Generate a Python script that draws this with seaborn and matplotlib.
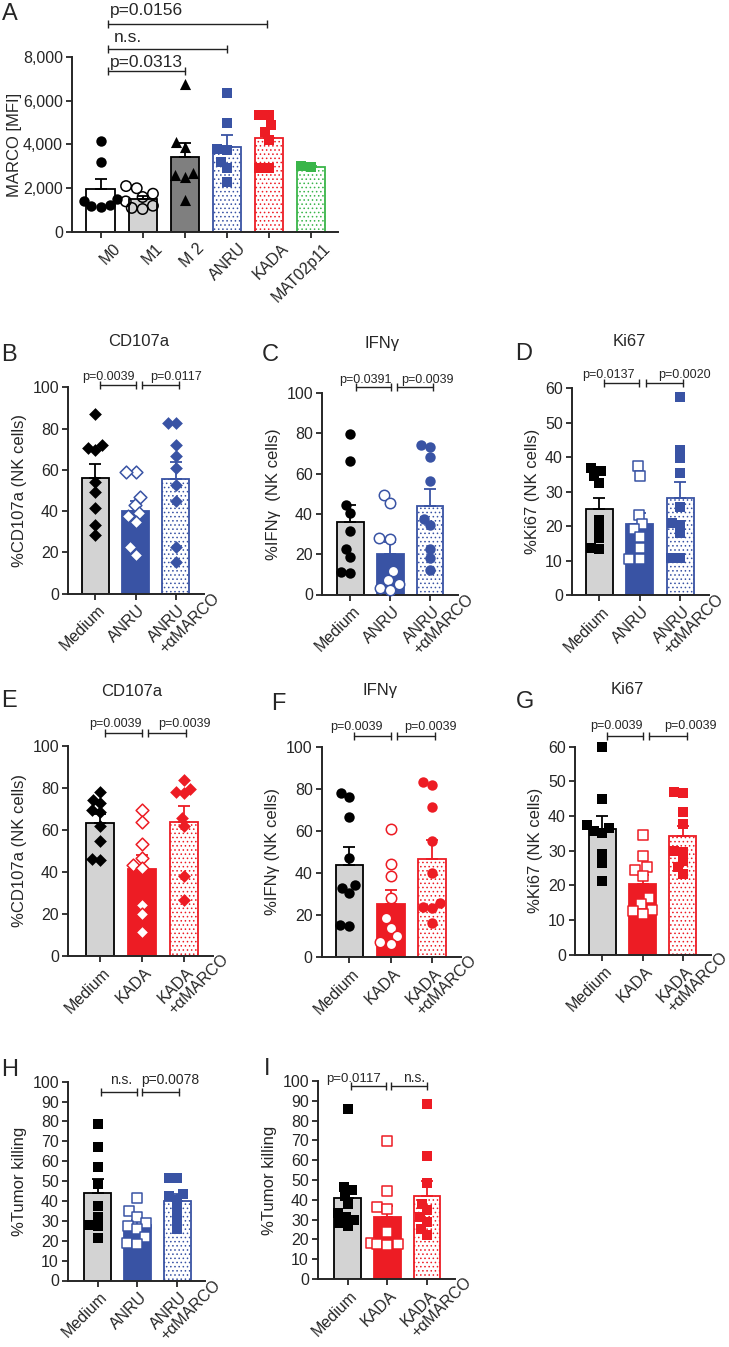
import numpy as np
import pandas as pd
import matplotlib
matplotlib.use("Agg")
import matplotlib.pyplot as plt
from matplotlib.transforms import ScaledTranslation, blended_transform_factory
from matplotlib.ticker import FuncFormatter
import seaborn as sns

# ---------------- data ----------------
A_cats = ["M0", "M1", "M 2", "ANRU", "KADA", "MAT02p11"]
A_M0 = [4170, 3220, 1500, 1400, 1250, 1150, 1200]
A_M1 = [2100, 2000, 1750, 1600, 1400, 1200, 1100, 1050]
A_M2 = [6780, 4100, 3900, 2700, 2600, 2500, 1470]
A_ANRU = [6350, 4960, 3800, 3750, 3220, 2910, 2300]
A_KADA = [5340, 5340, 4890, 4580, 4200, 2910, 2910]
A_MAT = [3020, 2960]

anru_cats = ["Medium", "ANRU", "ANRU\n+αMARCO"]
kada_cats = ["Medium", "KADA", "KADA\n+αMARCO"]

B_med = [87.1, 72.0, 70.6, 69.6, 54.2, 49.4, 41.3, 33.2, 28.4]
B_anru = [59.1, 59.1, 46.6, 42.9, 39.0, 37.8, 34.9, 22.4, 18.7]
B_mab = [82.5, 82.5, 72.0, 66.9, 60.7, 52.6, 45.0, 22.7, 15.4]

C_med = [79.6, 66.4, 44.5, 40.5, 31.5, 22.5, 18.5, 11.0, 10.5]
C_anru = [49.5, 45.4, 28.1, 27.3, 11.5, 7.0, 5.0, 3.0, 2.0]
C_mab = [74.2, 73.4, 68.4, 56.4, 37.6, 34.3, 22.6, 18.2, 12.4]

D_med = [36.8, 35.8, 34.5, 32.6, 21.8, 19.3, 16.6, 13.7, 13.2]
D_anru = [37.4, 34.6, 23.2, 20.5, 19.0, 16.7, 13.5, 10.3, 10.3]
D_mab = [57.5, 42.1, 39.7, 35.3, 25.4, 20.8, 20.3, 17.9, 10.8, 10.8]

E_med = [78.0, 74.2, 72.9, 69.4, 68.6, 61.9, 54.5, 46.1, 45.5]
E_kada = [69.2, 63.6, 53.2, 46.6, 43.5, 42.0, 24.4, 19.9, 11.5]
E_mab = [83.7, 79.5, 78.2, 77.5, 65.5, 61.9, 38.2, 26.8]

F_med = [78.2, 76.0, 66.8, 47.1, 34.0, 33.0, 30.5, 15.2, 14.8]
F_kada = [60.9, 44.3, 38.6, 28.0, 18.5, 14.0, 10.0, 7.0, 6.0]
F_mab = [83.1, 81.8, 71.2, 55.0, 39.8, 25.5, 24.0, 23.5, 16.0]

G_med = [60.0, 44.8, 37.3, 36.5, 35.8, 35.0, 29.0, 26.4, 21.3]
G_kada = [34.6, 28.6, 25.2, 24.5, 22.6, 16.5, 14.5, 13.0, 12.6, 11.7]
G_mab = [46.9, 46.6, 41.3, 37.8, 30.0, 29.5, 27.1, 25.2, 23.2]

H_med = [78.7, 67.4, 57.3, 48.6, 37.5, 32.0, 27.8, 27.5, 21.4]
H_anru = [41.5, 35.0, 32.0, 29.0, 27.5, 26.0, 22.0, 19.0, 18.5]
H_mab = [51.5, 51.5, 43.6, 42.3, 40.5, 35.3, 30.3, 26.1]

I_med = [85.8, 46.4, 44.7, 42.0, 38.0, 33.2, 31.5, 30.0, 28.3, 27.0]
I_kada = [69.8, 44.4, 36.3, 35.4, 23.9, 18.3, 17.8, 17.5, 17.0]
I_mab = [88.4, 62.0, 48.5, 38.0, 34.6, 31.5, 29.0, 25.3, 22.2]

# ---------------- style ----------------
sns.set_style("ticks")
plt.rcParams["font.family"] = ["Liberation Sans", "DejaVu Sans"]
plt.rcParams["hatch.linewidth"] = 0.6

W, H = 729, 1347
DPI = 100
fig = plt.figure(figsize=(W / DPI, H / DPI), dpi=DPI)

# separate scratch figure for measuring text widths
_mfig = plt.figure(figsize=(2, 2), dpi=DPI)
_mren = _mfig.canvas.get_renderer()

BLUE = "#3953A4"
RED = "#ED1C24"
GREEN = "#3AB54A"
LGREY = "#D3D3D3"
DGREY = "#7F7F7F"

SWARMS = []  # (collection, final marker size)
LAYOUT = 0.85  # swarm layout computed with slightly smaller markers (points overlap a bit)


def px_axes(l, t, r, b):
    return fig.add_axes([l / W, 1 - b / H, (r - l) / W, (b - t) / H])


def st(bar, edge, mface, medge, marker, hatch=None, err=None, msize=7, mlw=0.0):
    return dict(bar=bar, edge=edge, mface=mface, medge=medge, marker=marker,
                hatch=hatch, err=err or edge, msize=msize, mlw=mlw)


def draw_panel(ax, cats, groups, styles, ylim, yticks, ylabel, xleft, xright=2.7,
               tick_fs=11.5, fmt=None):
    df = pd.DataFrame({"g": np.repeat(cats, [len(g) for g in groups]),
                       "v": np.concatenate(groups)})
    sns.barplot(data=df, x="g", y="v", order=cats, errorbar=None, width=0.67,
                ax=ax, linewidth=1.3, edgecolor="black")
    for p, s in zip(ax.patches, styles):
        p.set_facecolor(s["bar"])
        p.set_edgecolor(s["edge"])
        if s["hatch"]:
            p.set_hatch(s["hatch"])
    for i, (vals, s) in enumerate(zip(groups, styles)):
        m = np.mean(vals)
        se = np.std(vals, ddof=1) / np.sqrt(len(vals))
        ax.errorbar([i], [m], yerr=[[0], [se]], fmt="none", ecolor=s["err"],
                    elinewidth=1.3, capsize=4.3, capthick=1.3, zorder=2.5)
    for i, (vals, s) in enumerate(zip(groups, styles)):
        sub = pd.DataFrame({"g": [cats[i]] * len(vals), "v": vals})
        n0 = len(ax.collections)
        sns.swarmplot(data=sub, x="g", y="v", order=cats, marker=s["marker"],
                      color=BLUE, size=s["msize"] * LAYOUT, ax=ax, warn_thresh=1,
                      zorder=3)
        for c in list(ax.collections[n0:]):
            if len(c.get_offsets()) == 0:
                c.remove()
                continue
            c.set_facecolor(s["mface"])
            c.set_edgecolor(s["medge"])
            c.set_linewidth(s["mlw"])
            c.set_clip_on(False)
            SWARMS.append((c, s["msize"]))
    sns.despine(ax=ax)
    for sp in ("left", "bottom"):
        ax.spines[sp].set_linewidth(1.4)
    ax.tick_params(direction="out", length=4.5, width=1.3, labelsize=tick_fs, pad=2)
    ax.set_ylim(*ylim)
    ax.set_yticks(yticks)
    if fmt:
        ax.yaxis.set_major_formatter(FuncFormatter(fmt))
    ax.set_xlim(xleft, xright)
    ax.set_ylabel(ylabel, fontsize=12)
    ax.set_xlabel("")


def text_width(s, fs):
    t = _mfig.text(0, 0, s, fontsize=fs)
    w = t.get_window_extent(_mren).width
    t.remove()
    return w


def xlabels(ax, labels, fs=11.5, dx_px=2, dy_px=-9):
    ax.set_xticks(range(len(labels)))
    ax.set_xticklabels([""] * len(labels))
    trans = blended_transform_factory(ax.transData, ax.transAxes)
    c = np.cos(np.pi / 4)
    for i, lab in enumerate(labels):
        lines = lab.split("\n")
        if len(lines) == 1:
            off = ScaledTranslation(dx_px / DPI, dy_px / DPI, fig.dpi_scale_trans)
            ax.text(i, 0, lab, transform=trans + off, rotation=45, rotation_mode="anchor",
                    ha="right", va="top", fontsize=fs)
        else:
            w = text_width(lines[0], fs)
            off = ScaledTranslation((dx_px - w * c) / DPI, (dy_px - w * c) / DPI,
                                    fig.dpi_scale_trans)
            ax.text(i, 0, lab, transform=trans + off, rotation=45, rotation_mode="anchor",
                    ha="left", va="top", multialignment="left", fontsize=fs,
                    linespacing=1.0)


def bracket(ax, x1, x2, y, lw=1.0, ms=6):
    ax.plot([x1, x2], [y, y], color="#222222", lw=lw, marker="|", ms=ms, mew=lw,
            clip_on=False, zorder=4)


def note(ax, x, y, s, fs=9):
    ax.text(x, y, s, ha="center", va="baseline", fontsize=fs, clip_on=False)


def fig_text(x, y, s, fs, **kw):
    fig.text(x / W, 1 - y / H, s, fontsize=fs, **kw)


# ---------------- panel A ----------------
axA = px_axes(72, 57, 338, 232)
A_styles = [
    st("white", "black", "black", "black", "o", msize=7.5),
    st(LGREY, "black", "none", "black", "o", msize=7.5, mlw=1.1),
    st(DGREY, "black", "black", "black", "^", msize=8),
    st("white", BLUE, BLUE, BLUE, "s", hatch="....", msize=7.5),
    st("white", RED, RED, RED, "s", hatch="....", msize=7.5),
    st("white", GREEN, GREEN, GREEN, "s", hatch="....", msize=7.5),
]
draw_panel(axA, A_cats, [A_M0, A_M1, A_M2, A_ANRU, A_KADA, A_MAT], A_styles,
           (0, 8000), [0, 2000, 4000, 6000, 8000], "MARCO [MFI]", -0.68, 5.65,
           fmt=lambda v, p: f"{v:,.0f}")
axA.yaxis.labelpad = 1
xlabels(axA, A_cats, dx_px=12, dy_px=-9)
bracket(axA, 0.18, 2.0, 7374)
note(axA, 1.1, 7556, "p=0.0313", 12.5)
bracket(axA, 0.18, 3.0, 8350)
note(axA, 0.64, 8700, "n.s.", 12.5)
bracket(axA, 0.18, 3.95, 9509)
note(axA, 1.1, 9920, "p=0.0156", 12.5)


# styles for 3-group panels
def trio(col, marker, ms=7):
    return [st(LGREY, "black", "black", "black", marker, msize=ms),
            st(col, col, "white", col, marker, msize=ms, mlw=1.1),
            st("white", col, col, col, marker, hatch="....", msize=ms)]


pct = [0, 20, 40, 60, 80, 100]
ki = [0, 10, 20, 30, 40, 50, 60]
tk = list(range(0, 101, 10))

# ---------------- row B C D ----------------
axB = px_axes(68, 387.3, 204, 593.5)
draw_panel(axB, anru_cats, [B_med, B_anru, B_mab], trio(BLUE, "D", 6.5),
           (0, 100), pct, "%CD107a (NK cells)", -0.68)
xlabels(axB, anru_cats)
bracket(axB, 0.115, 1.0, 101.2)
bracket(axB, 1.15, 2.08, 101.2)
note(axB, 0.33, 103.4, "p=0.0039")
note(axB, 2.0, 103.4, "p=0.0117")

axC = px_axes(322, 393, 458, 594.5)
draw_panel(axC, anru_cats, [C_med, C_anru, C_mab], trio(BLUE, "o", 7.5),
           (0, 100), pct, "%IFNγ  (NK cells)", -0.71)
xlabels(axC, anru_cats)
bracket(axC, 0.13, 1.01, 102.8)
bracket(axC, 1.16, 2.07, 102.8)
note(axC, 0.385, 105.1, "p=0.0391")
note(axC, 1.93, 105.1, "p=0.0039")

axD = px_axes(572, 388, 708.5, 595)
draw_panel(axD, anru_cats, [D_med, D_anru, D_mab], trio(BLUE, "s", 7),
           (0, 60), ki, "%Ki67 (NK cells)", -0.67)
xlabels(axD, anru_cats)
bracket(axD, 0.12, 0.99, 61.4)
bracket(axD, 1.15, 2.08, 61.4)
note(axD, 0.22, 62.8, "p=0.0137")
note(axD, 2.1, 62.8, "p=0.0020")

# ---------------- row E F G ----------------
axE = px_axes(68, 745.7, 213, 956)
draw_panel(axE, kada_cats, [E_med, E_kada, E_mab], trio(RED, "D", 6.5),
           (0, 100), pct, "%CD107a (NK cells)", -0.77)
xlabels(axE, kada_cats)
bracket(axE, 0.116, 0.995, 105.9)
bracket(axE, 1.14, 2.06, 105.9)
note(axE, 0.37, 108.7, "p=0.0039")
note(axE, 2.01, 108.7, "p=0.0039")

axF = px_axes(321.7, 746.7, 461, 957)
draw_panel(axF, kada_cats, [F_med, F_kada, F_mab], trio(RED, "o", 7.5),
           (0, 100), pct, "%IFNγ (NK cells)", -0.67)
xlabels(axF, kada_cats)
bracket(axF, 0.11, 0.995, 105.1)
bracket(axF, 1.14, 2.08, 105.1)
note(axF, 0.17, 108.0, "p=0.0039")
note(axF, 1.95, 108.0, "p=0.0039")

axG = px_axes(575, 746.7, 711, 954.7)
draw_panel(axG, kada_cats, [G_med, G_kada, G_mab], trio(RED, "s", 7),
           (0, 60), ki, "%Ki67 (NK cells)", -0.68)
xlabels(axG, kada_cats)
bracket(axG, 0.12, 1.0, 63.1)
bracket(axG, 1.17, 2.1, 63.1)
note(axG, 0.36, 65.1, "p=0.0039")
note(axG, 2.18, 65.1, "p=0.0039")

# ---------------- row H I ----------------
axH = px_axes(68, 1081.7, 205, 1280.5)
draw_panel(axH, anru_cats, [H_med, H_anru, H_mab], trio(BLUE, "s", 7),
           (0, 100), tk, "%Tumor killing", -0.75)
xlabels(axH, anru_cats)
bracket(axH, 0.08, 0.98, 95)
bracket(axH, 1.12, 2.05, 95)
note(axH, 0.6, 98.7, "n.s.", 10)
note(axH, 1.825, 98.7, "p=0.0078", 10)

axI = px_axes(318, 1081, 455, 1279)
draw_panel(axI, kada_cats, [I_med, I_kada, I_mab], trio(RED, "s", 7),
           (0, 100), tk, "%Tumor killing", -0.745)
xlabels(axI, kada_cats)
bracket(axI, 0.08, 0.97, 97.5)
bracket(axI, 1.09, 2.0, 97.5)
note(axI, 0.15, 99.6, "p=0.0117", 9.5)
note(axI, 1.66, 99.6, "n.s.", 10)

# ---------------- titles and panel letters ----------------
for x, y, s in [(138.7, 341.7, "CD107a"), (382.5, 343, "IFNγ"), (629, 341.7, "Ki67"),
                (131.7, 691.7, "CD107a"), (380.5, 690, "IFNγ"), (627, 690, "Ki67")]:
    fig_text(x, y, s, 12, ha="center", va="center")

for x, y, s in [(2, 14, "A"), (1, 355, "B"), (262, 355, "C"), (515, 354, "D"),
                (1, 701, "E"), (271, 704, "F"), (516, 702, "G"), (1, 1070, "H"),
                (264, 1069, "I")]:
    fig_text(x, y, s, 17, ha="left", va="center")

# compute the swarm layout once, then freeze it and show the markers at full size
fig.canvas.draw()
for c, ms in SWARMS:
    if "draw" in c.__dict__:
        del c.draw
    c.set_sizes([ms ** 2])

fig.savefig("out.png", dpi=DPI)
